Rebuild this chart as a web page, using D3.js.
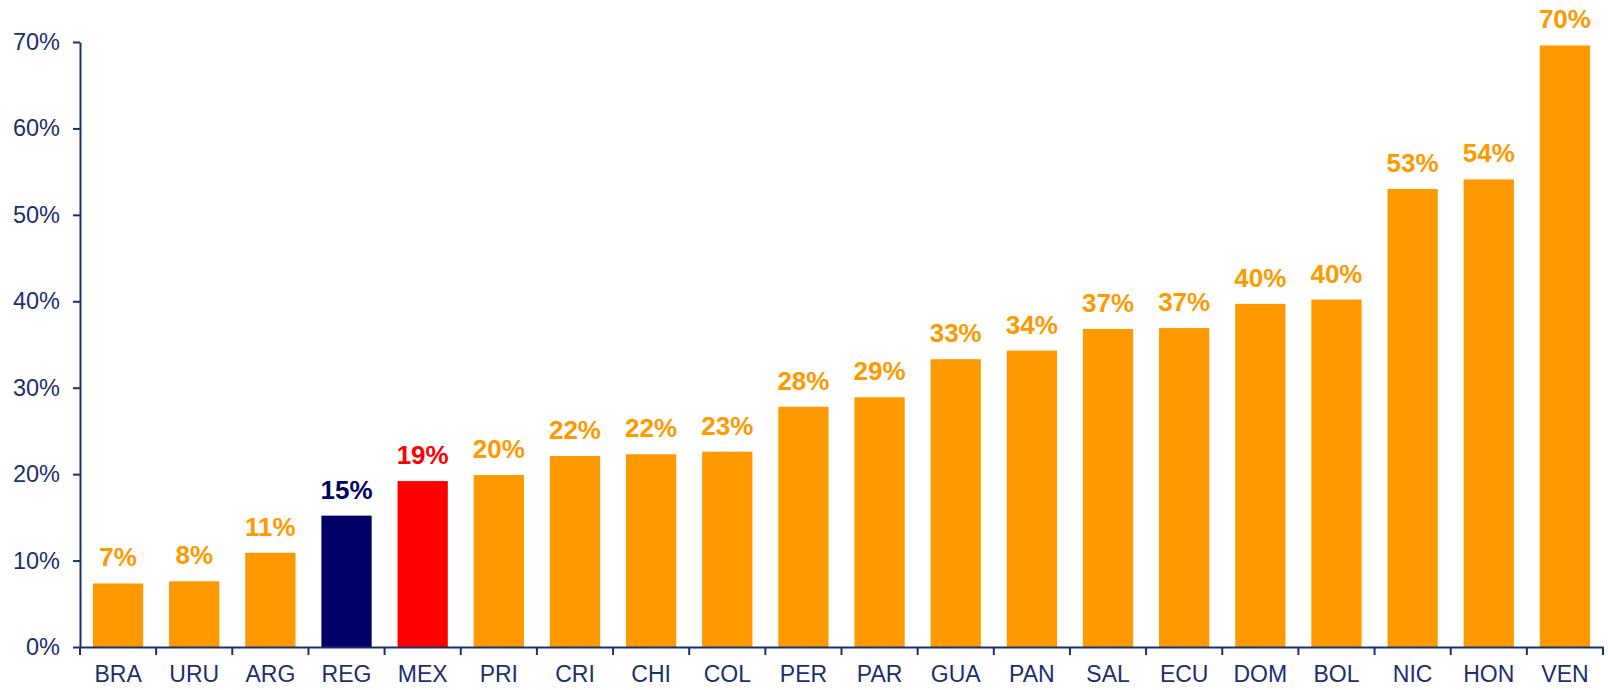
<!DOCTYPE html>
<html>
<head>
<meta charset="utf-8">
<script src="https://cdn.jsdelivr.net/npm/d3@7"></script>
<style>
  body { margin: 0; background: #fff; }
  svg { display: block; font-family: "Liberation Sans", Arial, sans-serif; }
</style>
</head>
<body>
<div id="container"></div>
<script>
// Chart size
const width = 1608;
const height = 690;

// Data
const countries = ["BRA", "URU", "ARG", "REG", "MEX", "PRI", "CRI", "CHI", "COL", "PER",
    "PAR", "GUA", "PAN", "SAL", "ECU", "DOM", "BOL", "NIC", "HON", "VEN"];
const values = [7.35, 7.6, 10.9, 15.2, 19.2, 19.9, 22.1, 22.3, 22.6, 27.8,
    28.9, 33.3, 34.3, 36.8, 36.9, 39.7, 40.2, 53.0, 54.1, 69.6];
const yTicks = [0, 10, 20, 30, 40, 50, 60, 70];

const axisColor = "#1b2f6c";
const barColor = d => d === "REG" ? "#000066" : d === "MEX" ? "#ff0000" : "#ff9900";

const margin = { top: 42, right: 5, bottom: 43, left: 80 };

const svg = d3.select("#container")
    .append("svg")
    .attr("width", width)
    .attr("height", height);

// Scales
const x = d3.scaleBand()
    .domain(countries)
    .range([margin.left, width - margin.right])
    .paddingInner(0.34)
    .paddingOuter(0.17);

const y = d3.scaleLinear()
    .domain([0, 70])
    .range([height - margin.bottom, margin.top]);

// Bars
svg.append("g")
    .selectAll("rect")
    .data(countries)
    .enter()
    .append("rect")
    .attr("x", d => x(d))
    .attr("y", (d, i) => y(values[i]))
    .attr("width", x.bandwidth())
    .attr("height", (d, i) => y(0) - y(values[i]))
    .attr("fill", barColor);

// Value labels
svg.append("g")
    .selectAll("text")
    .data(countries)
    .enter()
    .append("text")
    .attr("x", d => x(d) + x.bandwidth() / 2)
    .attr("y", (d, i) => y(values[i]) - 17)
    .attr("text-anchor", "middle")
    .attr("font-size", 26)
    .attr("font-weight", "bold")
    .attr("fill", barColor)
    .text((d, i) => Math.round(values[i]) + "%");

// Y axis
const yAxis = svg.append("g")
    .attr("transform", `translate(${margin.left},0)`)
    .call(d3.axisLeft(y).tickValues(yTicks).tickFormat(d => d + "%").tickSize(7).tickSizeOuter(0).tickPadding(13));

yAxis.select(".domain").attr("stroke", axisColor).attr("stroke-width", 2);
yAxis.selectAll(".tick line").attr("stroke", axisColor).attr("stroke-width", 2);
yAxis.selectAll("text")
    .attr("fill", axisColor)
    .style("font-size", "23.5px")
    .style("font-family", "Liberation Sans, Arial, sans-serif");

// X axis (labels only, ticks between categories drawn below)
const xAxis = svg.append("g")
    .attr("transform", `translate(0,${y(0)})`)
    .call(d3.axisBottom(x).tickSize(0).tickPadding(19));

xAxis.select(".domain").attr("stroke", axisColor).attr("stroke-width", 2);
xAxis.selectAll("text")
    .attr("fill", axisColor)
    .style("font-size", "23px")
    .style("font-family", "Liberation Sans, Arial, sans-serif");

// Boundary ticks
svg.append("g")
    .selectAll("line")
    .data(d3.range(countries.length + 1))
    .enter()
    .append("line")
    .attr("x1", i => x.range()[0] + i * x.step())
    .attr("x2", i => x.range()[0] + i * x.step())
    .attr("y1", y(0))
    .attr("y2", y(0) + 8)
    .attr("stroke", axisColor)
    .attr("stroke-width", 2);
</script>
</body>
</html>
